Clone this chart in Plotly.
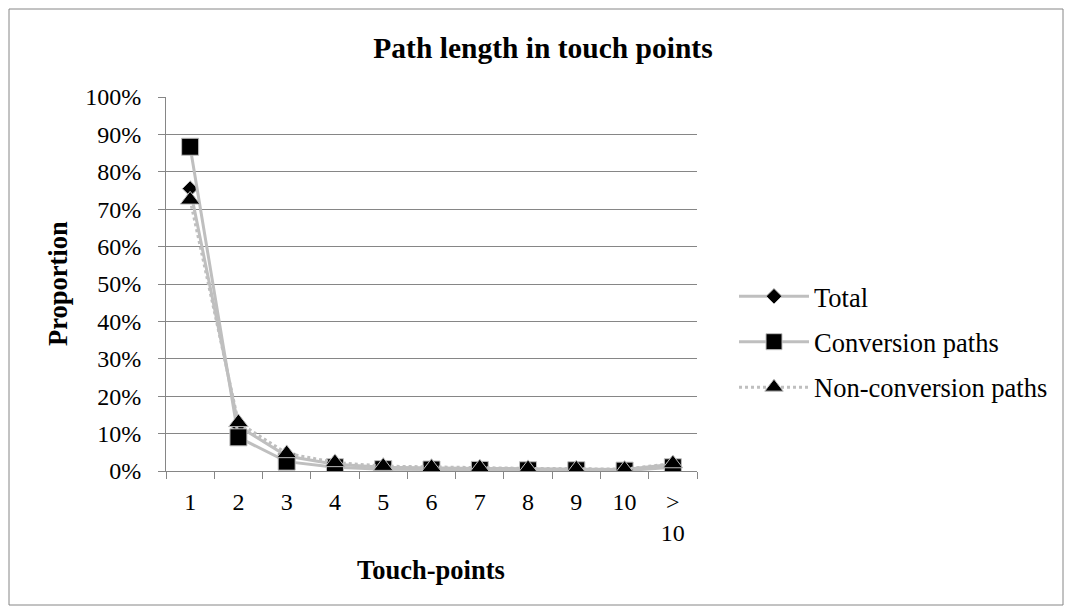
import plotly.graph_objects as go

# Path length categories (number of touch points)
categories = ["1", "2", "3", "4", "5", "6", "7", "8", "9", "10", "><br>10"]
positions = list(range(1, len(categories) + 1))

# Share of paths per length
total = [0.755, 0.12, 0.04, 0.018, 0.010, 0.008, 0.007, 0.006, 0.005, 0.004, 0.018]
conversion = [0.867, 0.09, 0.025, 0.010, 0.005, 0.004, 0.003, 0.002, 0.002, 0.001, 0.010]
non_conversion = [0.725, 0.13, 0.047, 0.023, 0.013, 0.010, 0.009, 0.007, 0.006, 0.005, 0.020]

FONT = "Liberation Serif, Times New Roman, serif"
LINE_GRAY = "#BFBFBF"
GRID_GRAY = "#868686"

W, H = 1071, 613
L, R, T, B = 166, 697, 97, 471
pw, ph = R - L, B - T


def px_x(x):
    return (x - L) / pw


def px_y(y):
    return (B - y) / ph


fig = go.Figure()

series = [
    ("Total", total, "diamond", 12, "solid"),
    ("Conversion paths", conversion, "square", 17, "solid"),
    ("Non-conversion paths", non_conversion, "triangle-up", 17, "dot"),
]
for name, vals, sym, size, dash in series:
    fig.add_trace(go.Scatter(
        x=positions, y=vals, name=name, legendgroup=name,
        mode="lines+markers",
        line=dict(color=LINE_GRAY, width=3, dash=dash),
        marker=dict(symbol=sym, size=size, color="black",
                    line=dict(color=LINE_GRAY, width=1)),
    ))

fig.update_layout(
    width=W, height=H,
    margin=dict(l=L, r=W - R, t=T, b=H - B, autoexpand=False),
    paper_bgcolor="white", plot_bgcolor="white",
    font=dict(family=FONT, size=24, color="black"),
    title=dict(text="<b>Path length in touch points</b>", x=543 / W, xanchor="center",
               y=1 - 48 / H, yanchor="middle", font=dict(size=29.5)),
    legend=dict(x=px_x(734), xanchor="left", y=px_y(342), yanchor="middle",
                font=dict(size=26.5), itemwidth=70, tracegroupgap=8,
                bgcolor="rgba(0,0,0,0)"),
    showlegend=True,
)
fig.update_xaxes(
    range=[0.5, len(categories) + 0.5],
    tickvals=positions, ticktext=categories, ticks="",
    showgrid=False, showline=True, linecolor=GRID_GRAY, linewidth=1,
    zeroline=False,
    minor=dict(ticks="outside", tick0=0.5, dtick=1, ticklen=7,
               tickcolor=GRID_GRAY, showgrid=False),
    tickfont=dict(size=24), ticklabelstandoff=9,
)
fig.update_yaxes(
    range=[0, 1], dtick=0.1, tickformat=".0%",
    showgrid=True, gridcolor=GRID_GRAY, gridwidth=1,
    showline=True, linecolor=GRID_GRAY, linewidth=1,
    ticks="outside", ticklen=7, tickcolor=GRID_GRAY,
    zeroline=False, tickfont=dict(size=24), ticklabelstandoff=12,
)

# Axis titles placed at fixed positions
fig.add_annotation(text="<b>Proportion</b>", xref="paper", yref="paper",
                   x=px_x(58), y=px_y(284), textangle=-90, showarrow=False,
                   font=dict(size=26.5), xanchor="center", yanchor="middle")
fig.add_annotation(text="<b>Touch-points</b>", xref="paper", yref="paper",
                   x=px_x(431), y=px_y(570), showarrow=False,
                   font=dict(size=26.5), xanchor="center", yanchor="middle")

# Outer chart border
fig.add_shape(type="rect", xref="paper", yref="paper",
              x0=px_x(9), x1=px_x(1063),
              y0=px_y(605), y1=px_y(9),
              line=dict(color=GRID_GRAY, width=1), fillcolor="rgba(0,0,0,0)")

fig.write_html("out.html")
